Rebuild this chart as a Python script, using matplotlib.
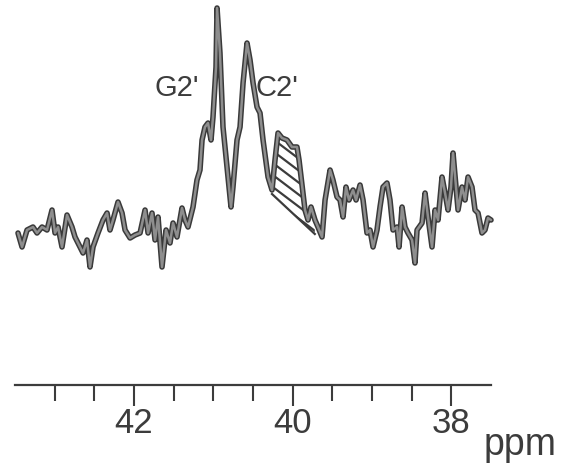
import numpy as np
import matplotlib
matplotlib.use('Agg')
import matplotlib.pyplot as plt
from matplotlib.ticker import FixedLocator

plt.rcParams['font.family'] = ['Liberation Sans', 'DejaVu Sans']

# chemical shift (ppm) and intensity (arb. units) of the trace
ppm = [43.463, 43.412, 43.349, 43.274, 43.223, 43.160, 43.097, 43.034, 42.996, 42.958,
       42.908, 42.845, 42.782, 42.744, 42.681, 42.643, 42.593, 42.555, 42.517, 42.454,
       42.391, 42.340, 42.303, 42.265, 42.202, 42.151, 42.113, 42.050, 41.987, 41.924,
       41.861, 41.823, 41.773, 41.735, 41.697, 41.647, 41.596, 41.546, 41.508, 41.458,
       41.395, 41.357, 41.319, 41.256, 41.206, 41.168, 41.142, 41.105, 41.067, 41.029,
       41.004, 40.966, 40.953, 40.916, 40.878, 40.827, 40.802, 40.777, 40.752, 40.701,
       40.663, 40.625, 40.575, 40.537, 40.499, 40.449, 40.411, 40.373, 40.310, 40.260,
       40.222, 40.184, 40.134, 40.071, 40.008, 39.945, 39.919, 39.844, 39.806, 39.768,
       39.718, 39.680, 39.629, 39.591, 39.528, 39.491, 39.440, 39.402, 39.364, 39.327,
       39.289, 39.238, 39.200, 39.150, 39.112, 39.062, 39.024, 38.986, 38.936, 38.898,
       38.860, 38.810, 38.772, 38.734, 38.683, 38.658, 38.620, 38.583, 38.545, 38.494,
       38.457, 38.431, 38.368, 38.330, 38.293, 38.242, 38.204, 38.166, 38.116, 38.078,
       38.040, 38.003, 37.977, 37.940, 37.914, 37.864, 37.826, 37.788, 37.738, 37.700,
       37.662, 37.612, 37.574, 37.536, 37.498]
intensity = [37, 23, 40, 43, 37, 43, 40, 60, 37, 43,
             23, 55, 43, 33, 23, 17, 30, 3, 23, 37,
             50, 57, 40, 50, 68, 57, 40, 32, 35, 37,
             60, 37, 57, 30, 53, 3, 40, 27, 47, 33,
             62, 50, 43, 63, 90, 100, 130, 143, 147, 130,
             153, 203, 262, 217, 143, 103, 83, 63, 83, 130,
             143, 187, 227, 210, 187, 163, 157, 130, 93, 80,
             110, 137, 132, 130, 123, 123, 110, 60, 50, 63,
             50, 43, 33, 70, 100, 90, 73, 70, 53, 83,
             70, 80, 70, 85, 70, 37, 40, 23, 40, 63,
             83, 87, 70, 40, 43, 23, 63, 43, 37, 30,
             7, 40, 47, 77, 53, 23, 60, 50, 93, 77,
             60, 83, 117, 83, 60, 83, 70, 93, 83, 60,
             57, 37, 40, 52, 50]

# straight baseline under the hatched shoulder
shoulder_ppm = [40.26, 39.72]
shoulder_base = [76, 36]

peak_labels = ["G2'", "C2'"]
peak_label_ppm = [41.458, 40.197]
peak_label_y = 182

major_ticks = [42, 40, 38]
minor_ticks = [43.0, 42.5, 41.5, 41.0, 40.5, 39.5, 39.0, 38.5]

ink = '#3c3c3c'

fig = plt.figure(figsize=(5.67, 4.66), dpi=100)
ax = fig.add_axes([0, 0, 1, 1])

x = np.array(ppm)
y = np.array(intensity)

# area between the shoulder and its baseline, shaded with diagonal strokes
m = (x <= shoulder_ppm[0]) & (x >= shoulder_ppm[1])
xs = np.concatenate([[shoulder_ppm[0]], x[m], [shoulder_ppm[1]]])
ys = np.interp(xs, x[::-1], y[::-1])
bs = np.interp(xs, shoulder_ppm[::-1], shoulder_base[::-1])
area = ax.fill_between(xs, bs, ys, where=ys >= bs, interpolate=True,
                       facecolor='none', linewidth=0)
clip = area.get_paths()[0]
slope = 60.0
hx = np.array([40.5, 39.5])
for c in np.arange(-40, 260, 12):
    ln, = ax.plot(hx, c + slope * (hx - 40), color=ink, lw=1.6)
    ln.set_clip_path(clip, ax.transData)
ax.plot(shoulder_ppm, shoulder_base, color=ink, lw=1.6)

# trace: dark edge with a lighter core
ax.plot(x, y, color='#3a3a3a', lw=4.0, solid_joinstyle='round', solid_capstyle='round')
ax.plot(x, y, color='#8e8e8e', lw=1.8, solid_joinstyle='round', solid_capstyle='round')

for lab, px in zip(peak_labels, peak_label_ppm):
    ax.text(px, peak_label_y, lab, ha='center', va='center', fontsize=21, color=ink)

ax.set_xlim(43.690, 36.540)
ax.set_ylim(-196, 270)

for s in ['top', 'left', 'right']:
    ax.spines[s].set_visible(False)
ax.spines['bottom'].set_position(('data', -115))
ax.spines['bottom'].set_bounds(43.5, 37.5)
ax.spines['bottom'].set_color(ink)
ax.spines['bottom'].set_linewidth(1.6)

ax.xaxis.set_major_locator(FixedLocator(major_ticks))
ax.xaxis.set_minor_locator(FixedLocator(minor_ticks))
ax.set_xticklabels([str(t) for t in major_ticks])
ax.tick_params(axis='x', which='major', direction='out', length=15, width=1.5,
               color=ink, labelsize=25, labelcolor=ink, pad=1)
ax.tick_params(axis='x', which='minor', direction='out', length=11.5, width=1.5, color=ink)
ax.set_yticks([])

ax.text(0.917, 0.024, 'ppm', transform=ax.transAxes, ha='center', va='baseline',
        fontsize=27, color=ink)

fig.savefig('out.png', dpi=100)
